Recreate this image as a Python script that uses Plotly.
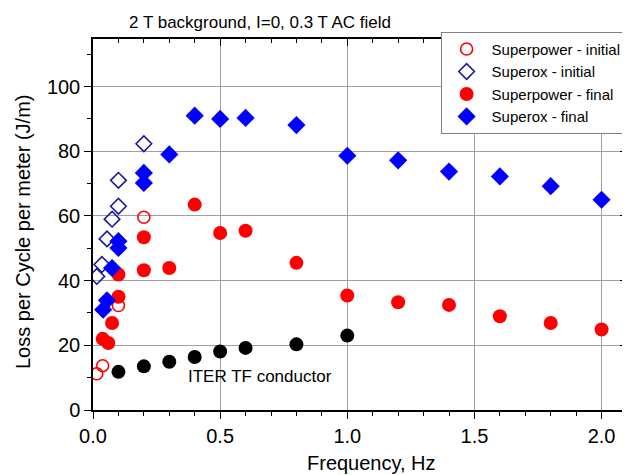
import plotly.graph_objects as go

# ---- data ----
sp_init_f = [0.015, 0.038, 0.1, 0.2]
sp_init_L = [11.2, 13.7, 32.3, 59.6]

sx_init_f = [0.015, 0.035, 0.055, 0.075, 0.1, 0.1, 0.2]
sx_init_L = [41.3, 45.0, 52.9, 59.0, 63.0, 71.0, 82.3]

sp_final_f = [0.038, 0.06, 0.075, 0.1, 0.1, 0.2, 0.2, 0.3, 0.4, 0.5, 0.6, 0.8, 1.0, 1.2, 1.4, 1.6, 1.8, 2.0]
sp_final_L = [22.0, 20.7, 26.9, 41.9, 35.0, 53.4, 43.2, 43.9, 63.5, 54.7, 55.4, 45.5, 35.4, 33.3, 32.5, 29.0, 26.9, 24.9]

sx_final_f = [0.04, 0.055, 0.075, 0.1, 0.1, 0.2, 0.2, 0.3, 0.4, 0.5, 0.6, 0.8, 1.0, 1.2, 1.4, 1.6, 1.8, 2.0]
sx_final_L = [31.0, 33.9, 43.9, 52.2, 50.1, 73.3, 70.2, 79.0, 91.0, 90.0, 90.3, 88.1, 78.6, 77.2, 73.7, 72.2, 69.2, 65.0]

iter_f = [0.1, 0.2, 0.3, 0.4, 0.5, 0.6, 0.8, 1.0]
iter_L = [11.8, 13.5, 14.9, 16.4, 18.1, 19.2, 20.3, 23.0]

x_ticks = [0.0, 0.5, 1.0, 1.5, 2.0]
x_tick_labels = ["0.0", "0.5", "1.0", "1.5", "2.0"]
y_ticks = [0, 20, 40, 60, 80, 100]

X_RANGE = [0, 2.1]
Y_RANGE = [0, 114.7]

FONT = "Liberation Sans, Arial, sans-serif"
RED = "#ff0000"
BLUE = "#0000ff"
NAVY = "#1a1a9a"

# page offset (default body margin of the html page)
OFF = 8
W, H = 630, 475
PL, PR, PT, PB = 92.7, 627.4, 39.3, 410.4   # plot box in window pixels
PW, PH = PR - PL, PB - PT


def px(wx):
    return (wx - PL) / PW


def py(wy):
    return (PB - wy) / PH


fig = go.Figure()

fig.add_trace(go.Scatter(x=iter_f, y=iter_L, mode="markers", showlegend=False,
                         marker=dict(symbol="circle", size=14, color="black")))
fig.add_trace(go.Scatter(x=sp_init_f, y=sp_init_L, mode="markers", name="Superpower - initial",
                         marker=dict(symbol="circle-open", size=12, color=RED, line=dict(width=1.6, color=RED))))
fig.add_trace(go.Scatter(x=sx_init_f, y=sx_init_L, mode="markers", name="Superox - initial",
                         marker=dict(symbol="diamond-open", size=12, color=NAVY, line=dict(width=1.6, color=NAVY))))
fig.add_trace(go.Scatter(x=sp_final_f, y=sp_final_L, mode="markers", name="Superpower - final",
                         marker=dict(symbol="circle", size=14, color=RED)))
fig.add_trace(go.Scatter(x=sx_final_f, y=sx_final_L, mode="markers", name="Superox - final",
                         marker=dict(symbol="diamond", size=14, color=BLUE)))

# dummy trace to carry mirrored top/right axes with inward ticks
fig.add_trace(go.Scatter(x=[None], y=[None], xaxis="x2", yaxis="y2", showlegend=False,
                         hoverinfo="skip", mode="markers"))

fig.update_layout(
    width=W, height=H,
    margin=dict(l=PL - OFF, r=W - (PR - OFF), t=PT - OFF, b=H - (PB - OFF), pad=0),
    paper_bgcolor="white", plot_bgcolor="white",
    font=dict(family=FONT, color="black"),
    title=dict(text="2 T background, I=0, 0.3 T AC field", x=(260 - OFF) / W, xanchor="center",
               y=1 - (22 - OFF) / H, yanchor="middle", font=dict(size=17, family=FONT, color="black")),
    xaxis=dict(range=X_RANGE, tickvals=x_ticks, ticktext=x_tick_labels,
               showline=True, linecolor="black", linewidth=1.5,
               ticks="outside", ticklen=7, tickwidth=1.2, tickcolor="black",
               tickfont=dict(size=20, family=FONT),
               showgrid=True, gridcolor="#a0a0a0", gridwidth=1, zeroline=False,
               minor=dict(dtick=0.1, ticks="outside", ticklen=4, tickwidth=1.2, tickcolor="black", showgrid=False)),
    yaxis=dict(range=Y_RANGE, tickvals=y_ticks,
               showline=True, linecolor="black", linewidth=1.5,
               ticks="outside", ticklen=7, tickwidth=1.2, tickcolor="black",
               tickfont=dict(size=20, family=FONT),
               showgrid=True, gridcolor="#a0a0a0", gridwidth=1, zeroline=False,
               minor=dict(dtick=10, ticks="outside", ticklen=4, tickwidth=1.2, tickcolor="black", showgrid=False)),
    xaxis2=dict(range=X_RANGE, overlaying="x", side="top", anchor="y", tickvals=x_ticks,
                showticklabels=False, showline=True, linecolor="black", linewidth=1.5,
                ticks="inside", ticklen=7, tickwidth=1.2, tickcolor="black",
                showgrid=False, zeroline=False,
                minor=dict(dtick=0.1, ticks="inside", ticklen=4, tickwidth=1.2, tickcolor="black", showgrid=False)),
    yaxis2=dict(range=Y_RANGE, overlaying="y", side="right", anchor="x", tickvals=y_ticks,
                showticklabels=False, showline=True, linecolor="black", linewidth=1.5,
                ticks="inside", ticklen=7, tickwidth=1.2, tickcolor="black",
                showgrid=False, zeroline=False,
                minor=dict(dtick=10, ticks="inside", ticklen=4, tickwidth=1.2, tickcolor="black", showgrid=False)),
    legend=dict(x=px(627), xanchor="right", y=py(32), yanchor="top",
                bgcolor="white", bordercolor="#808080", borderwidth=1,
                font=dict(size=15, family=FONT, color="black"),
                itemwidth=40, tracegroupgap=0),
    showlegend=True,
)

fig.add_annotation(text="Loss per Cycle per meter (J/m)", textangle=-90,
                   xref="paper", yref="paper", x=px(22), y=py(232),
                   xanchor="center", yanchor="middle", showarrow=False,
                   font=dict(size=20, family=FONT, color="black"))
fig.add_annotation(text="Frequency, Hz", xref="paper", yref="paper",
                   x=px(372), y=py(463),
                   xanchor="center", yanchor="middle", showarrow=False,
                   font=dict(size=20, family=FONT, color="black"))
fig.add_annotation(text="ITER TF conductor", xref="x", yref="y", x=0.365, y=10.4,
                   xanchor="left", yanchor="middle", showarrow=False,
                   font=dict(size=17, family=FONT, color="black"))

fig.write_html("out.html")
